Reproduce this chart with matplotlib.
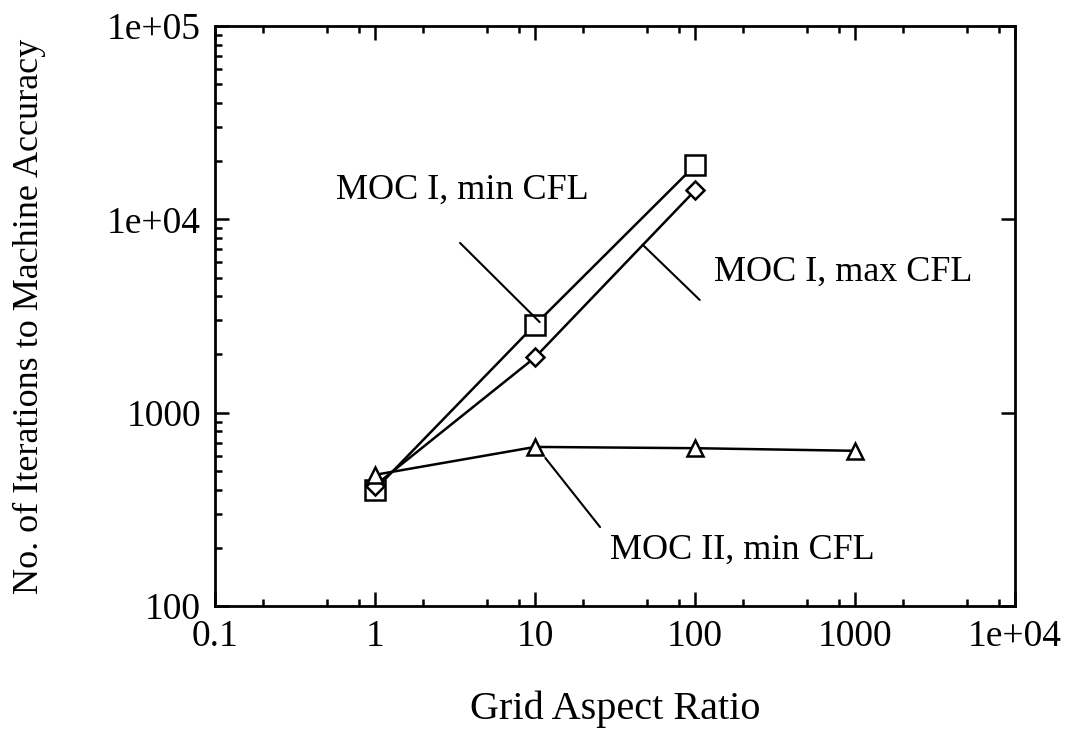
import matplotlib
matplotlib.use("Agg")
import matplotlib.pyplot as plt
from matplotlib.ticker import LogLocator, NullFormatter, FixedLocator, FixedFormatter

plt.rcParams["font.family"] = ["Liberation Serif", "DejaVu Serif"]

# data
aspect = [1, 10, 100]
moc1_min = [400, 2850, 19000]
moc1_max = [420, 1930, 14100]
aspect2 = [1, 10, 100, 1000]
moc2_min = [477, 665, 655, 635]

x_ticks = [0.1, 1, 10, 100, 1000, 1e4]
x_labels = ["0.1", "1", "10", "100", "1000", "1e+04"]
y_ticks = [100, 1000, 1e4, 1e5]
y_labels = ["100", "1000", "1e+04", "1e+05"]

fig = plt.figure(figsize=(10.84, 7.46), dpi=100)
ax = fig.add_axes([215 / 1084, 1 - 606 / 746, (1015 - 215) / 1084, (606 - 26) / 746])

kw = dict(color="black", lw=1.8, mfc="white", mec="black", mew=1.8)
ax.plot(aspect, moc1_min, marker="s", ms=15, **kw)
ax.plot(aspect, moc1_max, marker="D", ms=9, **kw)
ax.plot(aspect2, moc2_min, marker="^", ms=11, **kw)

ax.set_xscale("log")
ax.set_yscale("log")
ax.set_xlim(0.1, 1e4)
ax.set_ylim(100, 1e5)

ax.xaxis.set_major_locator(FixedLocator(x_ticks))
ax.xaxis.set_major_formatter(FixedFormatter(x_labels))
ax.xaxis.set_minor_locator(LogLocator(base=10, subs=(2, 5, 8)))
ax.xaxis.set_minor_formatter(NullFormatter())
ax.yaxis.set_major_locator(FixedLocator(y_ticks))
ax.yaxis.set_major_formatter(FixedFormatter(y_labels))
ax.yaxis.set_minor_locator(LogLocator(base=10, subs=range(2, 10)))
ax.yaxis.set_minor_formatter(NullFormatter())

ax.tick_params(which="both", direction="in", top=True, right=True, width=1.8,
               labelsize=27, pad=10)
ax.tick_params(which="major", length=10)
ax.tick_params(which="minor", length=5)
ax.tick_params(axis="y", which="minor", right=False)
for s in ax.spines.values():
    s.set_linewidth(2)

ax.set_xlabel("Grid Aspect Ratio", fontsize=29, labelpad=26)
ax.set_ylabel("No. of Iterations to Machine Accuracy", fontsize=26, labelpad=44)

line = dict(arrowprops=dict(arrowstyle="-", color="black", lw=1.5,
                            shrinkA=0, shrinkB=0))
ax.text(3.5, 14200, "MOC I, min CFL", fontsize=26, ha="center", va="center")
ax.annotate("", xy=(10.7, 2940), xytext=(3.4, 7550), **line)
ax.text(841, 5350, "MOC I, max CFL", fontsize=26, ha="center", va="center")
ax.annotate("", xy=(47, 7400), xytext=(107, 3830), **line)
ax.text(197, 195, "MOC II, min CFL", fontsize=26, ha="center", va="center")
ax.annotate("", xy=(11.6, 583), xytext=(25.5, 256), **line)

fig.savefig("out.png", dpi=100)
